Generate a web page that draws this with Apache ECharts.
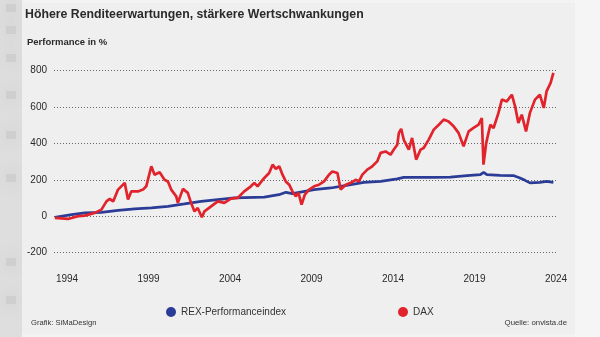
<!DOCTYPE html>
<html>
<head>
<meta charset="utf-8">
<script src="https://cdn.jsdelivr.net/npm/echarts@6/dist/echarts.min.js"></script>
<style>html,body{margin:0;padding:0;background:#f2f2f2;}#c{width:600px;height:337px;}</style>
</head>
<body>
<div id="c"></div>
<script>
const xTickLabels = [1994, 1999, 2004, 2009, 2014, 2019, 2024];
const yTicks = [-200, 0, 200, 400, 600, 800];

const daxYears = [1993.25,1994.07,1994.28,1994.69,1995.09,1995.70,1996.11,1996.42,1996.62,1996.83,1997.13,1997.54,1997.74,1997.94,1998.35,1998.66,1998.86,1999.17,1999.37,1999.68,1999.98,2000.19,2000.39,2000.70,2000.80,2001.11,2001.41,2001.61,2001.82,2002.02,2002.27,2002.43,2002.84,2003.25,2003.65,2004.06,2004.47,2004.87,2005.28,2005.49,2005.69,2006.10,2006.40,2006.61,2006.81,2007.02,2007.22,2007.42,2007.63,2007.83,2008.03,2008.20,2008.39,2008.59,2008.85,2009.16,2009.46,2009.77,2010.07,2010.28,2010.59,2010.79,2011.10,2011.40,2011.71,2011.91,2012.12,2012.42,2012.73,2013.03,2013.24,2013.54,2013.85,2014.05,2014.26,2014.36,2014.50,2014.66,2014.76,2014.97,2015.17,2015.42,2015.69,2015.88,2016.19,2016.50,2016.81,2017.11,2017.41,2017.72,2018.02,2018.33,2018.64,2018.94,2019.25,2019.45,2019.55,2019.72,2019.97,2020.17,2020.47,2020.68,2020.98,2021.29,2021.49,2021.69,2021.90,2022.16,2022.40,2022.71,2023.01,2023.25,2023.42,2023.67,2023.84];
const daxValues = [-10,-15,-10,0,3,18,36,81,95,81,146,183,91,136,136,146,164,274,228,241,200,191,146,109,73,150,128,73,26,45,-6,26,54,81,73,96,100,136,164,183,164,210,237,283,260,274,228,191,173,136,109,128,63,118,146,164,173,191,228,246,237,146,173,183,200,191,228,256,274,301,348,356,338,366,393,458,480,420,421,366,430,311,366,375,421,476,503,531,521,494,458,384,466,485,503,540,283,403,503,485,568,641,631,668,604,513,558,466,568,641,668,595,686,733,788];

const rexYears = [1993.25,1994.28,1995.09,1996.11,1997.13,1998.15,1999.17,2000.19,2001.20,2002.23,2003.25,2004.26,2006.10,2007.00,2007.43,2007.83,2009.16,2010.18,2010.79,2012.21,2013.24,2014.26,2014.66,2015.48,2016.50,2017.52,2018.54,2019.36,2019.56,2019.76,2020.57,2021.38,2021.79,2022.10,2022.40,2023.01,2023.42,2023.84];
const rexValues = [-6,8,18,21,32,40,45,54,67,81,91,100,105,118,131,124,146,155,164,186,191,205,213,213,213,215,223,228,241,228,224,223,210,197,183,186,191,186];

const seriesNames = ['REX-Performanceindex', 'DAX'];
const RED = '#e1242c', BLUE = '#2b3c96';
const FONT = 'Liberation Sans, Arial, Helvetica, sans-serif';

const blobs = [8, 30, 58, 95, 135, 178, 262, 300].map(y => ({
  type: 'rect', z: -9, shape: {x: 6, y: y - 4, width: 10, height: 8},
  style: {fill: '#cacaca', opacity: 0.7, shadowBlur: 16, shadowColor: '#c0c0c0'}
}));

const chart = echarts.init(document.getElementById('c'), null, {renderer: 'canvas'});
chart.setOption({
  animation: false,
  backgroundColor: '#f3f3f3',
  graphic: [
    {type: 'rect', z: -10, shape: {x: 0, y: 0, width: 22, height: 337}, style: {fill: '#dedede'}},
    {type: 'rect', z: -10, shape: {x: 575, y: 0, width: 25, height: 337}, style: {fill: '#f5f5f5'}},
    ...blobs,
    {type: 'rect', z: -8, shape: {x: 22, y: 3, width: 553, height: 331}, style: {fill: '#efefef'}},
    {type: 'text', left: 25, top: 9, style: {text: 'Höhere Renditeerwartungen, stärkere Wertschwankungen', font: 'bold 12.3px ' + FONT, fill: '#2a2a2a'}},
    {type: 'text', left: 27, top: 37, style: {text: 'Performance in %', font: 'bold 9.5px ' + FONT, fill: '#2a2a2a'}},
    {type: 'text', left: 31, top: 319, style: {text: 'Grafik: SiMaDesign', font: '7.6px ' + FONT, fill: '#333'}},
    {type: 'text', right: 33, top: 319, style: {text: 'Quelle: onvista.de', font: '7.8px ' + FONT, fill: '#333'}}
  ],
  legend: [
    {data: [seriesNames[0]], left: 166, top: 307, icon: 'circle', itemWidth: 10, itemHeight: 10, itemGap: 4,
     padding: 0, textStyle: {fontFamily: FONT, fontSize: 10, color: '#333'}},
    {data: [seriesNames[1]], left: 398, top: 307, icon: 'circle', itemWidth: 10, itemHeight: 10, itemGap: 4,
     padding: 0, textStyle: {fontFamily: FONT, fontSize: 10, color: '#333'}}
  ],
  grid: {left: 54, right: 44, top: 70.7, bottom: 84.5, containLabel: false},
  xAxis: {
    type: 'value', min: 1993.2, max: 2024,
    axisLine: {show: false}, axisTick: {show: false}, splitLine: {show: false},
    axisLabel: {customValues: xTickLabels, margin: 22, fontFamily: FONT, fontSize: 10, color: '#2a2a2a',
      formatter: v => String(Math.round(v))}
  },
  yAxis: {
    type: 'value', min: yTicks[0], max: yTicks[yTicks.length - 1], interval: 200,
    axisLine: {show: false}, axisTick: {show: false},
    axisLabel: {margin: 7, fontFamily: FONT, fontSize: 10, color: '#2a2a2a'},
    splitLine: {show: true, lineStyle: {color: '#666', width: 1, type: [1, 2]}}
  },
  series: [
    {name: seriesNames[0], type: 'line', showSymbol: false, color: BLUE,
     lineStyle: {width: 2.7, color: BLUE}, data: rexYears.map((y, i) => [y, rexValues[i]])},
    {name: seriesNames[1], type: 'line', showSymbol: false, color: RED,
     lineStyle: {width: 2.7, color: RED}, data: daxYears.map((y, i) => [y, daxValues[i]])}
  ]
});
</script>
</body>
</html>
